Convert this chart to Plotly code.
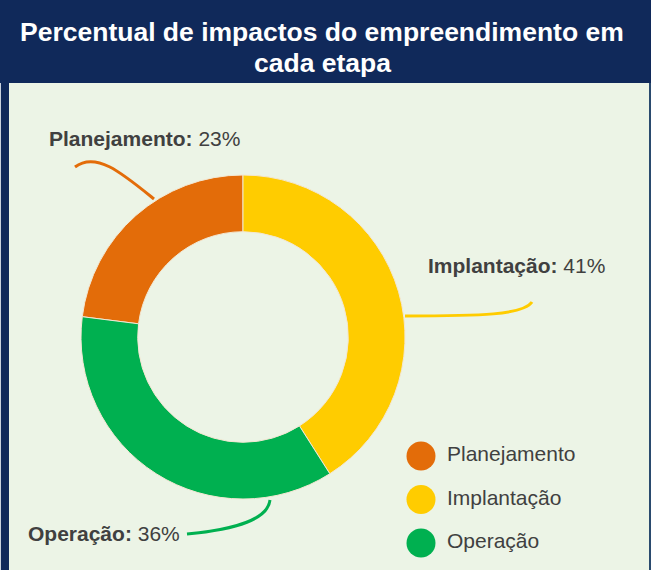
import plotly.graph_objects as go

# Share of impacts per project stage
categories = ["Planejamento", "Implantação", "Operação"]
percentages = [23, 41, 36]
colors = ["#E36C09", "#FFCC00", "#00B050"]

title_lines = ["Percentual de impactos do empreendimento em", "cada etapa"]

W, H = 651, 570
NAVY = "#10295A"
PANEL = "#ECF4E6"
EDGE = "#2A4A6E"
TEXT = "#404040"
FONT = "Liberation Sans, Arial, sans-serif"


def fx(x):
    return x / W


def fy(y):
    return 1 - y / H


def path(points):
    (x0, y0), rest = points[0], points[1:]
    s = f"M {fx(x0):.5f},{fy(y0):.5f} C"
    s += " ".join(f"{fx(x):.5f},{fy(y):.5f}" for x, y in rest)
    return s


fig = go.Figure()

total = sum(percentages)
fig.add_trace(go.Pie(
    labels=categories,
    values=percentages,
    marker=dict(colors=colors, line=dict(color="#F3E7D2", width=1)),
    hole=0.65,
    sort=False,
    direction="clockwise",
    rotation=-360 * percentages[0] / total,
    textinfo="none",
    hoverinfo="label+percent",
    showlegend=False,
    domain=dict(x=[fx(81), fx(405)], y=[fy(499), fy(175)]),
))

# Hand-built legend: round swatches and their labels
fig.add_trace(go.Scatter(
    x=[421] * len(categories), y=categories, mode="markers",
    marker=dict(size=29, color=colors),
    xaxis="x", yaxis="y2", showlegend=False, hoverinfo="skip", cliponaxis=False,
))
fig.add_trace(go.Scatter(
    x=[447] * len(categories), y=categories, mode="text",
    text=categories, textposition="middle right",
    textfont=dict(size=21, color=TEXT, family=FONT),
    xaxis="x", yaxis="y", showlegend=False, hoverinfo="skip", cliponaxis=False,
))

shapes = [
    dict(type="rect", xref="paper", yref="paper", layer="below",
         x0=fx(9), x1=fx(649), y0=0, y1=fy(83), fillcolor=PANEL, line=dict(width=0)),
    dict(type="rect", xref="paper", yref="paper", layer="below",
         x0=fx(649), x1=1, y0=0, y1=fy(83), fillcolor=EDGE, line=dict(width=0)),
    dict(type="rect", xref="paper", yref="paper", layer="below",
         x0=0, x1=fx(1), y0=0, y1=fy(83), fillcolor="#C9D1DC", line=dict(width=0)),
]

# Curved leader lines from each slice to its label
leaders = [
    [(154, 199), (122, 173), (96, 151), (75, 167)],
    [(405, 316), (480, 316), (523, 315), (532, 302)],
    [(270, 500), (268, 519), (238, 529), (187, 534)],
]
for pts, col in zip(leaders, colors):
    shapes.append(dict(type="path", xref="paper", yref="paper", path=path(pts),
                       line=dict(color=col, width=3)))

label_pos = [(144.5, 138.5), (516.5, 265.5), (103.5, 533.5)]
annotations = [
    dict(text=f"<b>{c}:</b> {p}%", x=fx(x), y=fy(y), xref="paper", yref="paper",
         xanchor="center", yanchor="middle", showarrow=False,
         font=dict(size=21, color=TEXT, family=FONT))
    for c, p, (x, y) in zip(categories, percentages, label_pos)
]
for line, ty in zip(title_lines, [32, 63]):
    annotations.append(dict(
        text=f"<b>{line}</b>", x=fx(322), y=fy(ty), xref="paper", yref="paper",
        xanchor="center", yanchor="middle", showarrow=False,
        font=dict(size=26.5, color="white", family=FONT),
    ))

fig.update_layout(
    width=W, height=H,
    margin=dict(l=0, r=0, t=0, b=0),
    paper_bgcolor=NAVY,
    plot_bgcolor="rgba(0,0,0,0)",
    shapes=shapes,
    annotations=annotations,
    xaxis=dict(domain=[0, 1], range=[0, W], visible=False, fixedrange=True),
    yaxis=dict(domain=[fy(564.75), fy(434.25)], type="category",
               range=[2.5, -0.5], visible=False, fixedrange=True),
    yaxis2=dict(domain=[fy(552.6), fy(434.9)], type="category",
                range=[2.5, -0.5], visible=False, fixedrange=True,
                overlaying="y", anchor="x"),
    showlegend=False,
)

fig.write_html("out.html")
